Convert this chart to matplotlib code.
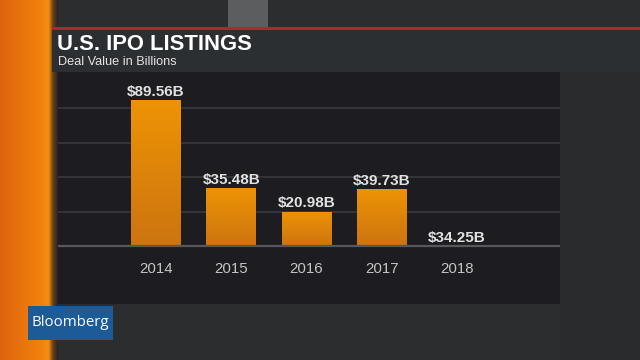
import numpy as np
import matplotlib
matplotlib.use("Agg")
import matplotlib.pyplot as plt
from matplotlib.patches import Rectangle
from matplotlib.colors import LinearSegmentedColormap

# ---- data ----
years = ["2014", "2015", "2016", "2017", "2018"]
deal_values = [89.56, 35.48, 20.98, 39.73, 34.25]       # labelled values (billions)
shown_heights = [89.56, 35.48, 20.98, 35.0, 0.0]        # bar heights as drawn in the frame (animation)
title = "U.S. IPO LISTINGS"
subtitle = "Deal Value in Billions"

W, H = 640, 360
fig = plt.figure(figsize=(6.4, 3.6), dpi=100, facecolor="#2a2c2e")

# ---- background decorations in pixel coordinates ----
bg = fig.add_axes([0, 0, 1, 1])
bg.set_xlim(0, W)
bg.set_ylim(H, 0)
bg.axis("off")

def rect(x0, y0, x1, y1, color, z=0):
    bg.add_patch(Rectangle((x0, y0), x1 - x0, y1 - y0, facecolor=color, edgecolor="none", zorder=z))

rect(0, 0, W, H, "#2a2c2e")
rect(48, 0, W, 28, "#2b2d2f")
rect(228, 0, 268, 27, "#5c5d5f", 1)
# orange strip gradient
orange = LinearSegmentedColormap.from_list(
    "o", [(0.0, "#de640c"), (0.72, "#f2820e"), (0.84, "#f39010"),
          (0.91, "#704418"), (1.0, "#262426")])
grad = np.linspace(0, 1, 256).reshape(1, -1)
bg.imshow(grad, cmap=orange, extent=[0, 58, H, 0], aspect="auto", zorder=1)
# red line and title panel
rect(52, 27, W, 30, "#b52430", 3)
rect(52, 30, W, 72, "#2c2f31", 3)
# chart panel
rect(58, 72, 560, 304, "#1d1d21", 2)
rect(560, 72, W, 360, "#292b2c", 2)
rect(58, 304, 560, 360, "#2b2d2e", 2)

bg.text(57, 45, title, color="white", fontsize=15.8, fontweight="bold",
        family="Liberation Sans", va="center", ha="left", zorder=5)
bg.text(58, 62, subtitle, color="#e4e4e4", fontsize=9.2,
        family="Liberation Sans", va="center", ha="left", zorder=5)

# Bloomberg logo
rect(28, 306, 113, 340, "#1c5a98", 5)
bg.text(70, 323, "Bloomberg", color="white", fontsize=10.8, family="Open Sans",
        va="center", ha="center", zorder=6)

# ---- bar chart axes ----
px_per_b = 1.63
base_px = 246
left_px, right_px, top_px, bot_px = 58, 560, 72, 304
ax = fig.add_axes([left_px / W, 1 - bot_px / H, (right_px - left_px) / W, (bot_px - top_px) / H])
ax.patch.set_alpha(0)
spacing = 75.25
for s in ax.spines.values():
    s.set_visible(False)
ax.set_xticks([])
ax.set_yticks([])

grid_step = 34.5 / px_per_b
for i in range(1, 5):
    ax.axhline(i * grid_step, color="#38383d", lw=1.2, zorder=1)
ax.axhline(0, color="#58585c", lw=1.6, zorder=3)

x = np.arange(len(years))
bars = ax.bar(x, shown_heights, width=50 / spacing, color="#ec9008", zorder=2)
cmap = LinearSegmentedColormap.from_list("b", ["#cc7410", "#ee9305"])
gy = np.linspace(0, 1, 128).reshape(-1, 1)
for b, h in zip(bars, shown_heights):
    if h <= 0:
        continue
    im = ax.imshow(gy, cmap=cmap, origin="lower", aspect="auto",
                   extent=[b.get_x(), b.get_x() + b.get_width(), 0, h], zorder=2.5)
    im.set_clip_path(b)

for xi, h, v, yr in zip(x, shown_heights, deal_values, years):
    ax.annotate(f"${v:.2f}B", (xi, h), xytext=(0, 6), textcoords="offset points",
                ha="center", va="center", color="#e2e2e2", fontsize=11,
                fontweight="bold", family="Liberation Sans", zorder=4)
    ax.annotate(yr, (xi, 0), xytext=(0, -16.5), textcoords="offset points",
                ha="center", va="center", color="#c4c4c4", fontsize=10.8,
                family="Liberation Sans", zorder=4)

ax.set_xlim((left_px - 156) / spacing, (right_px - 156) / spacing)
ax.set_ylim((base_px - bot_px) / px_per_b, (base_px - top_px) / px_per_b)

fig.savefig("out.png", dpi=100, facecolor=fig.get_facecolor())
